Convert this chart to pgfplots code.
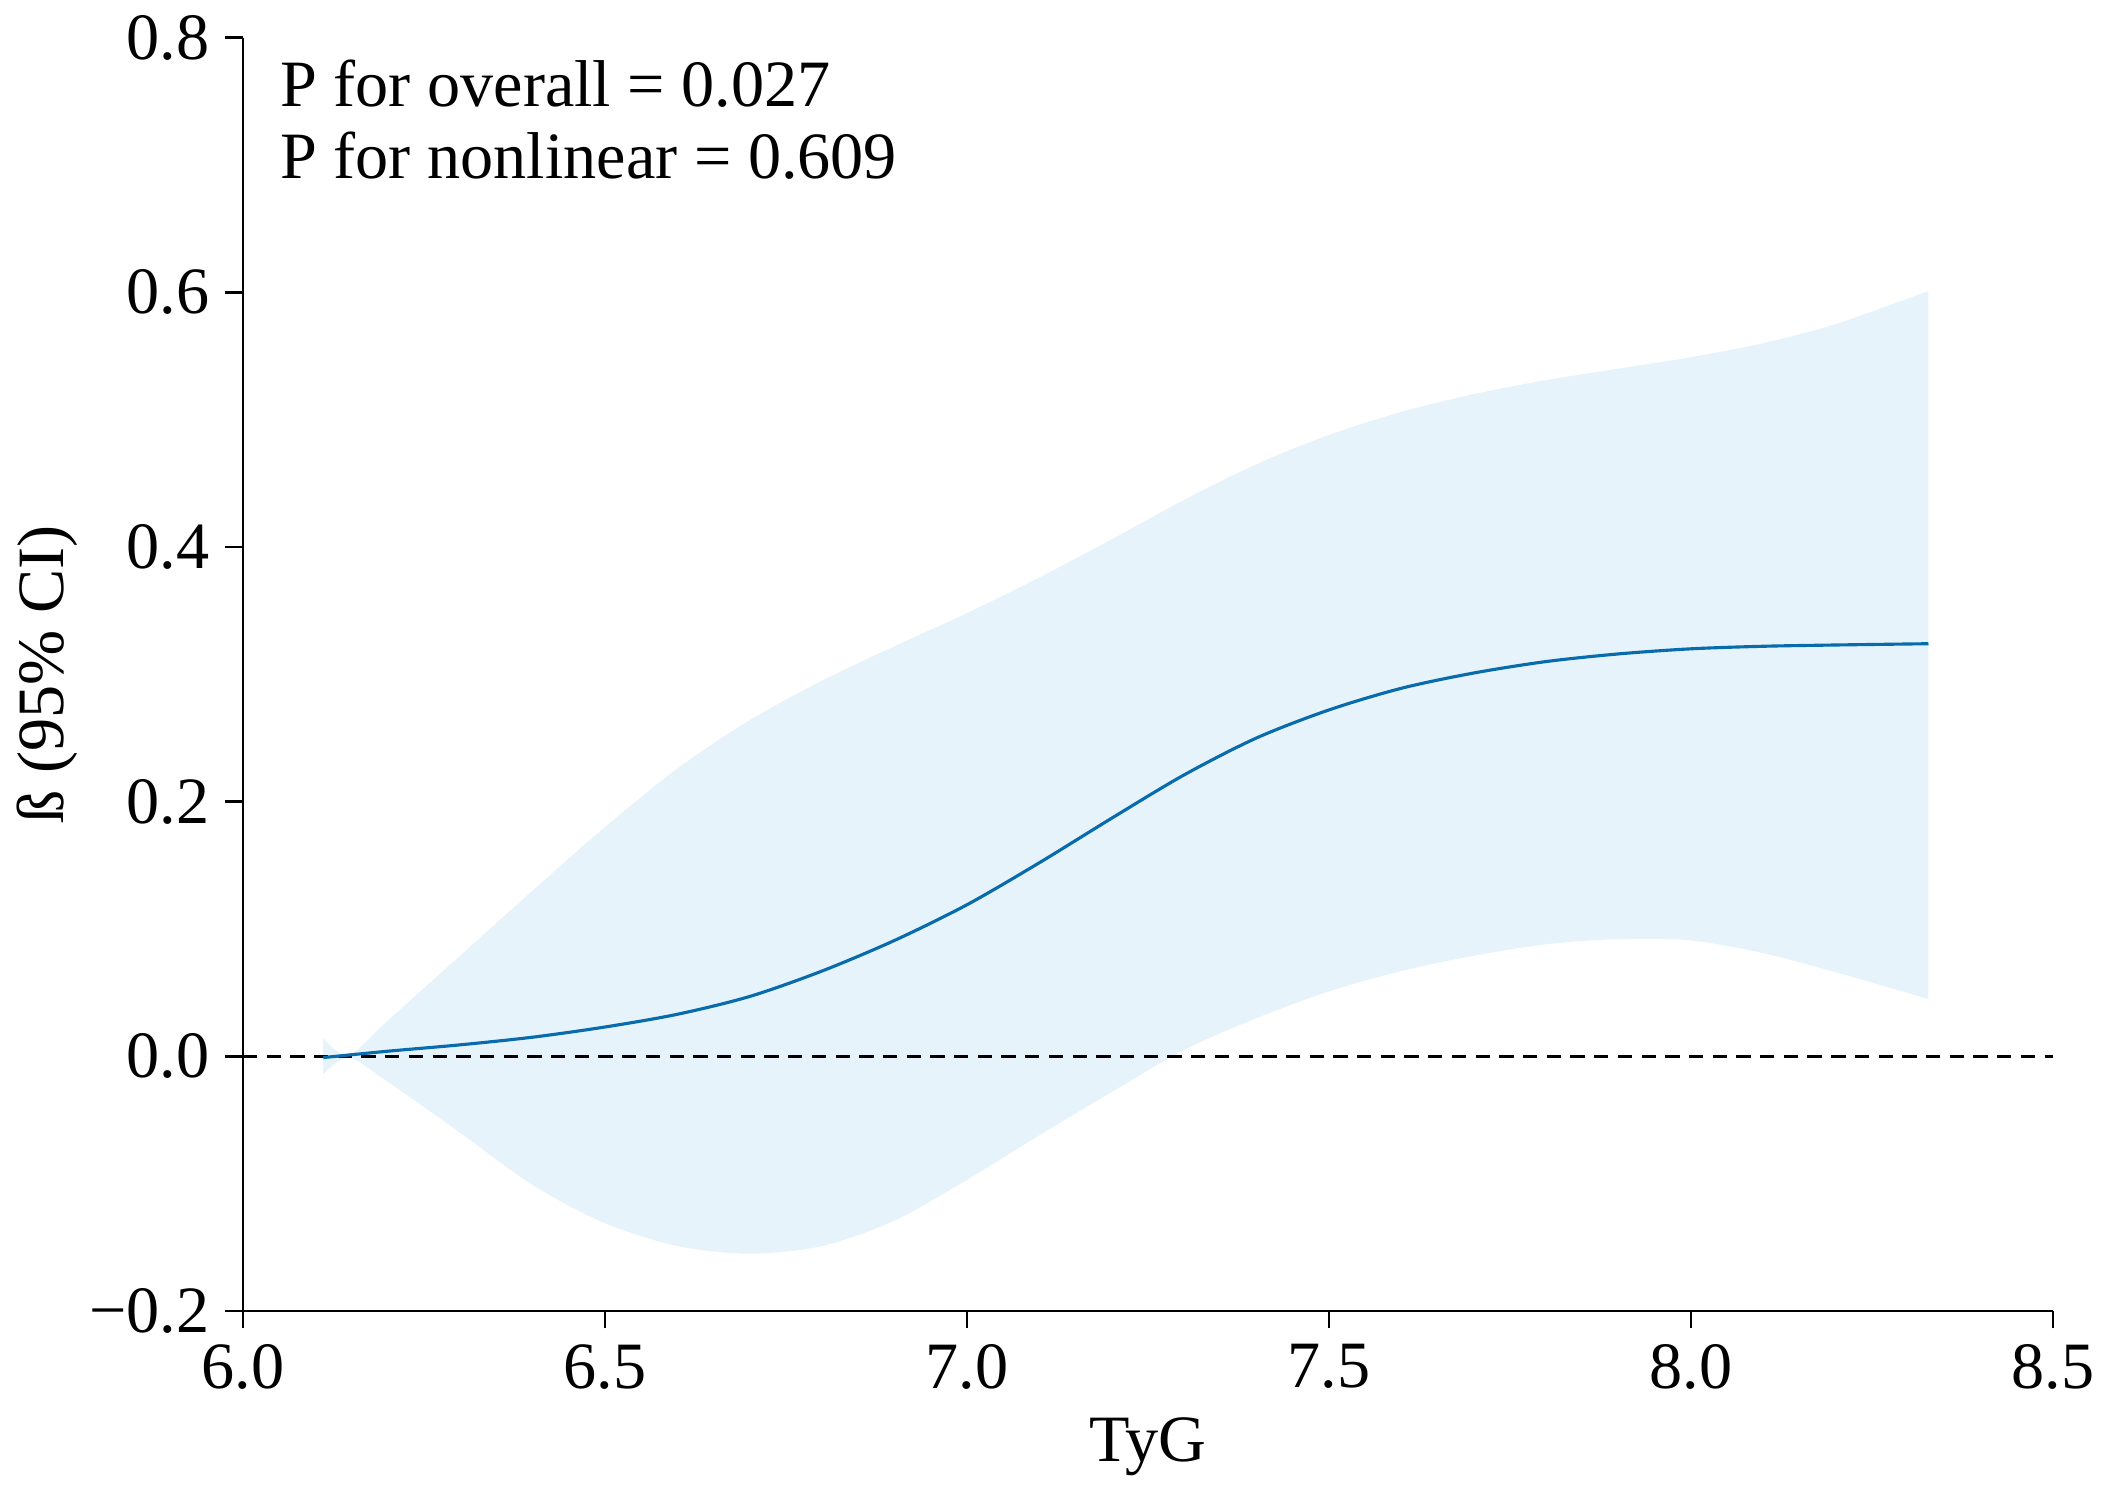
\documentclass[border=0pt]{standalone}
\usepackage{pgfplots}
\pgfplotsset{compat=1.18}
\usepgfplotslibrary{fillbetween}
\usepackage{fontspec}
\setmainfont{Liberation Serif}
\definecolor{lineblue}{RGB}{8,108,172}
\definecolor{bandblue}{RGB}{231,243,250}
\newcommand{\fs}{\fontsize{14.8}{17}\selectfont}
\begin{document}
\begin{tikzpicture}
\begin{axis}[
  scale only axis,
  width=404.7pt, height=284.7pt,
  xmin=6, xmax=8.5, ymin=-0.2, ymax=0.8,
  axis x line*=bottom, axis y line*=left,
  axis line style={-, line width=0.6pt},
  tick align=outside,
  major tick length=3.9pt,
  tick style={line width=0.6pt, black},
  xtick={6,6.5,7,7.5,8,8.5},
  xticklabels={6.0,6.5,7.0,7.5,8.0,8.5},
  ytick={-0.2,0,0.2,0.4,0.6,0.8},
  yticklabels={−0.2,0.0,0.2,0.4,0.6,0.8},
  ticklabel style={font=\fs},
  /pgf/number format/assume math mode=true,
  xlabel={TyG},
  ylabel={ß (95\% CI)},
  xlabel style={font=\fs, at={(axis description cs:0.5,0)}, anchor=base, yshift=-33.6pt},
  ylabel style={font=\fs, at={(axis description cs:-0.1082,0.5)}, anchor=center},
  clip=false,
]
\addplot[name path=up, draw=none, smooth] coordinates {
(6.111,0.014) (6.146,0.001) (6.2,0.028) (6.3,0.079) (6.4,0.130) (6.5,0.180)
(6.6,0.226) (6.7,0.264) (6.8,0.295) (6.9,0.322) (7.0,0.348) (7.1,0.376)
(7.2,0.406) (7.3,0.437) (7.4,0.465) (7.5,0.488) (7.6,0.506) (7.7,0.520)
(7.8,0.531) (7.9,0.540) (8.0,0.549) (8.1,0.560) (8.2,0.575) (8.328,0.601)
};
\addplot[name path=lo, draw=none, smooth] coordinates {
(6.111,-0.014) (6.146,-0.001) (6.2,-0.020) (6.3,-0.060) (6.4,-0.101)
(6.5,-0.131) (6.6,-0.149) (6.7,-0.155) (6.8,-0.149) (6.9,-0.129)
(7.0,-0.097) (7.1,-0.062) (7.2,-0.028) (7.3,0.005) (7.4,0.030)
(7.5,0.051) (7.6,0.067) (7.7,0.079) (7.8,0.088) (7.9,0.092)
(8.0,0.091) (8.1,0.081) (8.2,0.066) (8.328,0.045)
};
\addplot[bandblue, draw=none] fill between[of=up and lo];
\addplot[black, line width=0.6pt, dash pattern=on 3.2pt off 2.1pt] coordinates {(6,0) (8.5,0)};
\addplot[lineblue, line width=0.7pt, smooth] coordinates {
(6.111,-0.001) (6.2,0.004) (6.3,0.009) (6.4,0.015) (6.5,0.023) (6.6,0.033)
(6.7,0.047) (6.8,0.067) (6.9,0.091) (7.0,0.119) (7.1,0.152) (7.2,0.187)
(7.3,0.221) (7.4,0.250) (7.5,0.272) (7.6,0.289) (7.7,0.301) (7.8,0.310)
(7.9,0.316) (8.0,0.320) (8.1,0.322) (8.2,0.323) (8.328,0.324)
};
\node[font=\fs, anchor=base west, inner sep=0pt] at ([shift={(8.2pt,-15.45pt)}]rel axis cs:0,1) {P for overall = 0.027};
\node[font=\fs, anchor=base west, inner sep=0pt] at ([shift={(8.2pt,-31.47pt)}]rel axis cs:0,1) {P for nonlinear = 0.609};
\end{axis}
\pgfresetboundingbox
\path ([shift={(-54.3pt,-39.6pt)}]current axis.south west) rectangle ([shift={(11.4pt,8.4pt)}]current axis.north east);
\end{tikzpicture}
\end{document}
